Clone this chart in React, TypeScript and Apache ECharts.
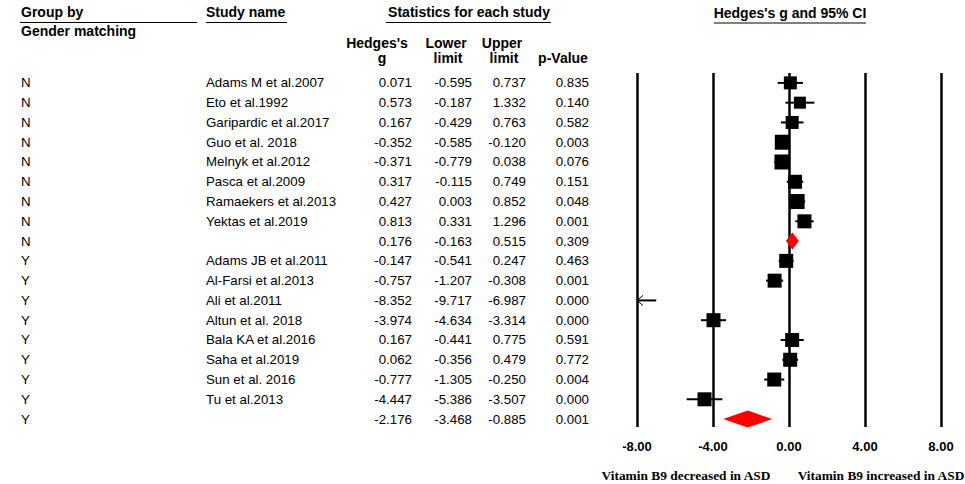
import React, { useEffect, useRef } from "react";
import * as echarts from "echarts";

const groups = ["N", "N", "N", "N", "N", "N", "N", "N", "N", "Y", "Y", "Y", "Y", "Y", "Y", "Y", "Y", "Y"];
const studyNames = [
  "Adams M et al.2007",
  "Eto et al.1992",
  "Garipardic et al.2017",
  "Guo et al. 2018",
  "Melnyk et al.2012",
  "Pasca et al.2009",
  "Ramaekers et al.2013",
  "Yektas et al.2019",
  "",
  "Adams JB et al.2011",
  "Al-Farsi et al.2013",
  "Ali et al.2011",
  "Altun et al. 2018",
  "Bala KA et al.2016",
  "Saha et al.2019",
  "Sun et al. 2016",
  "Tu et al.2013",
  "",
];
const hedgesG = [0.071, 0.573, 0.167, -0.352, -0.371, 0.317, 0.427, 0.813, 0.176, -0.147, -0.757, -8.352, -3.974, 0.167, 0.062, -0.777, -4.447, -2.176];
const lowerLimit = [-0.595, -0.187, -0.429, -0.585, -0.779, -0.115, 0.003, 0.331, -0.163, -0.541, -1.207, -9.717, -4.634, -0.441, -0.356, -1.305, -5.386, -3.468];
const upperLimit = [0.737, 1.332, 0.763, -0.12, 0.038, 0.749, 0.852, 1.296, 0.515, 0.247, -0.308, -6.987, -3.314, 0.775, 0.479, -0.25, -3.507, -0.885];
const pValues = [0.835, 0.14, 0.582, 0.003, 0.076, 0.151, 0.048, 0.001, 0.309, 0.463, 0.001, 0.0, 0.0, 0.591, 0.772, 0.004, 0.0, 0.001];
const isSummary = [0, 0, 0, 0, 0, 0, 0, 0, 1, 0, 0, 0, 0, 0, 0, 0, 0, 1];
// relative study weights (drawn as square size)
const studyWeight = [13, 12, 13, 15, 15, 14, 15, 14, 0, 14, 14, 14, 14, 14, 14, 14, 14, 0];
const xTicks = [-8, -4, 0, 4, 8];

const SANS = "'Liberation Sans', Arial, sans-serif";
const SERIF = "'Liberation Serif', 'Times New Roman', serif";

export default function App() {
  const ref = useRef<HTMLDivElement>(null);
  useEffect(() => {
    if (!ref.current) return;
    const chart = echarts.init(ref.current, undefined, { renderer: "svg" });
    const xMin = xTicks[0];
    const xMax = xTicks[xTicks.length - 1];

    const forestData = hedgesG.map((g, i) => [g, lowerLimit[i], upperLimit[i], i, studyWeight[i], isSummary[i]]);
    const tableData = hedgesG.map((_, i) => [0, i]);

    const txt = (x: number, y: number, text: string, align: string, bold = true, font = SANS, size = 14) => ({
      type: "text",
      x,
      y,
      style: {
        text,
        fill: "#000",
        font: `${bold ? "bold " : ""}${size}px ${font}`,
        align,
        verticalAlign: "middle",
      },
    });
    const uline = (x1: number, x2: number, y: number) => ({
      type: "line",
      shape: { x1, y1: y, x2, y2: y },
      style: { stroke: "#000", lineWidth: 1 },
    });

    const option: any = {
      animation: false,
      backgroundColor: "#fff",
      grid: { left: 637, right: 24, top: 73, bottom: 57 },
      xAxis: {
        type: "value",
        min: xMin,
        max: xMax,
        interval: 4,
        axisLine: { show: false },
        axisTick: { show: false },
        axisLabel: {
          formatter: (v: number) => v.toFixed(2),
          color: "#000",
          fontWeight: "bold",
          fontSize: 13,
          fontFamily: SANS,
          margin: 13,
        },
        splitLine: { show: true, lineStyle: { color: "#000", width: 2.5 } },
      },
      yAxis: {
        type: "value",
        inverse: true,
        min: -0.5,
        max: 17.4,
        show: false,
        splitLine: { show: false },
      },
      graphic: [
        txt(21, 12, "Group by", "left"),
        uline(20, 197, 22.5),
        txt(21, 31, "Gender matching", "left"),
        txt(206, 12, "Study name", "left"),
        uline(206, 287, 22.5),
        txt(469, 12, "Statistics for each study", "center"),
        uline(386, 551, 22.5),
        txt(377, 43, "Hedges's", "center"),
        txt(382, 58, "g", "center"),
        txt(446, 43, "Lower", "center"),
        txt(448, 58, "limit", "center"),
        txt(502, 43, "Upper", "center"),
        txt(504, 58, "limit", "center"),
        txt(563, 58, "p-Value", "center"),
        txt(790, 13, "Hedges's g and 95% CI", "center"),
        uline(714, 866, 23),
        txt(686, 475, "Vitamin B9 decreased in ASD", "center", true, SERIF, 13.4),
        txt(881, 475, "Vitamin B9 increased in ASD", "center", true, SERIF, 13.4),
      ],
      series: [
        {
          type: "custom",
          clip: false,
          silent: true,
          data: tableData,
          renderItem: (params: any, api: any) => {
            const i = params.dataIndex;
            const y = api.coord([0, api.value(1)])[1];
            const t = (x: number, text: string, align: string) => ({
              type: "text",
              x,
              y,
              style: { text, fill: "#000", font: `13.3px ${SANS}`, align, verticalAlign: "middle" },
            });
            return {
              type: "group",
              children: [
                t(21, groups[i], "left"),
                t(206, studyNames[i], "left"),
                t(412, hedgesG[i].toFixed(3), "right"),
                t(472, lowerLimit[i].toFixed(3), "right"),
                t(526, upperLimit[i].toFixed(3), "right"),
                t(589, pValues[i].toFixed(3), "right"),
              ],
            };
          },
        },
        {
          type: "custom",
          clip: false,
          silent: true,
          data: forestData,
          renderItem: (params: any, api: any) => {
            const g = api.value(0);
            const lo = api.value(1);
            const hi = api.value(2);
            const row = api.value(3);
            const w = api.value(4);
            const summ = api.value(5);
            const clampX = (v: number) => api.coord([Math.max(xMin, Math.min(xMax, v)), row])[0];
            const y = api.coord([0, row])[1];
            const children: any[] = [];
            if (summ) {
              const h = 8.5;
              children.push({
                type: "polygon",
                shape: {
                  points: [
                    [clampX(lo), y],
                    [clampX(g), y - h],
                    [clampX(hi), y],
                    [clampX(g), y + h],
                  ],
                },
                style: { fill: "#ff0000" },
              });
            } else {
              const x1 = clampX(lo);
              const x2 = clampX(hi);
              children.push({
                type: "line",
                shape: { x1, y1: y, x2, y2: y },
                style: { stroke: "#000", lineWidth: 2 },
              });
              if (lo < xMin) {
                children.push({
                  type: "polyline",
                  shape: { points: [[x1 + 6, y - 5], [x1, y], [x1 + 6, y + 5]] },
                  style: { stroke: "#000", lineWidth: 1, fill: "none" },
                });
              }
              if (hi > xMax) {
                children.push({
                  type: "polyline",
                  shape: { points: [[x2 - 6, y - 5], [x2, y], [x2 - 6, y + 5]] },
                  style: { stroke: "#000", lineWidth: 1, fill: "none" },
                });
              }
              if (g >= xMin && g <= xMax) {
                const cx = clampX(g);
                children.push({
                  type: "rect",
                  shape: { x: cx - w / 2, y: y - w / 2, width: w, height: w },
                  style: { fill: "#000" },
                });
              }
            }
            return { type: "group", children };
          },
        },
      ],
    };
    chart.setOption(option);
    return () => chart.dispose();
  }, []);
  return <div ref={ref} style={{ width: 965, height: 484, position: "absolute", left: 0, top: 0 }} />;
}
